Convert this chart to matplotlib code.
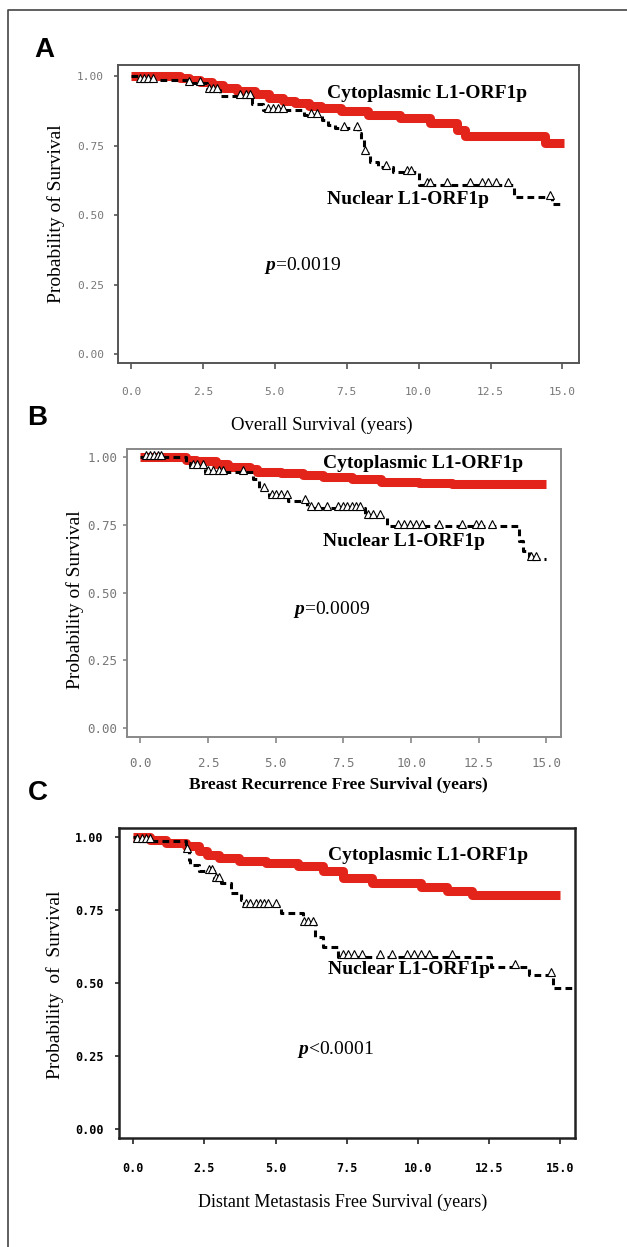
import numpy as np
import matplotlib.pyplot as plt
from matplotlib.lines import Line2D

plt.rcParams['mathtext.fontset'] = 'custom'
plt.rcParams['mathtext.it'] = 'Liberation Serif:italic:bold'
plt.rcParams['mathtext.rm'] = 'Liberation Serif'

# Panel A - overall survival
a_cyto_t = [0, 1.7, 2.0, 2.4, 2.8, 3.2, 3.7, 4.3, 4.8, 5.3, 5.7, 6.2, 6.6, 7.3, 8.25, 9.35, 10.4, 11.35, 11.6, 14.4]
a_cyto_s = [1.0, 0.993, 0.986, 0.978, 0.968, 0.957, 0.945, 0.935, 0.922, 0.91, 0.903, 0.893, 0.885, 0.875, 0.86, 0.849, 0.83, 0.806, 0.785, 0.76]
a_cyto_end = 15.05
a_nuc_t = [0, 0.25, 1.95, 2.65, 3.1, 3.7, 4.2, 4.6, 6.0, 6.65, 6.85, 7.1, 7.9, 8.0, 8.1, 8.3, 8.6, 9.1, 10.0, 13.3, 14.65]
a_nuc_s = [1.0, 0.985, 0.975, 0.95, 0.93, 0.925, 0.90, 0.877, 0.86, 0.842, 0.824, 0.813, 0.795, 0.775, 0.725, 0.69, 0.673, 0.655, 0.61, 0.565, 0.54]
a_nuc_end = 15.05
a_nuc_cens = [0.3, 0.45, 0.6, 0.75, 2.0, 2.4, 2.7, 2.85, 3.0, 3.8, 4.0, 4.15, 4.75, 4.95, 5.1, 5.3,
              6.25, 6.45, 7.4, 7.85, 8.15, 8.85, 9.6, 9.75, 10.3, 10.4, 11.0, 11.8, 12.2, 12.4, 12.7, 13.1, 14.55]

# Panel B - breast recurrence free survival
b_cyto_t = [0, 1.7, 2.05, 2.8, 3.25, 4.05, 4.3, 5.2, 6.0, 6.75, 7.8, 8.9, 10.3, 11.5]
b_cyto_s = [1.0, 0.99, 0.985, 0.974, 0.963, 0.955, 0.945, 0.94, 0.933, 0.926, 0.92, 0.91, 0.906, 0.90]
b_cyto_end = 15.0
b_nuc_t = [0, 1.7, 1.85, 2.4, 4.15, 4.4, 4.75, 5.45, 6.15, 8.3, 9.1, 14.0, 14.15, 14.35]
b_nuc_s = [1.0, 0.98, 0.967, 0.945, 0.92, 0.88, 0.856, 0.837, 0.812, 0.78, 0.745, 0.69, 0.655, 0.625]
b_nuc_end = 15.0
b_nuc_cens = [0.2, 0.35, 0.5, 0.65, 0.75, 1.95, 2.1, 2.3, 2.5, 2.7, 2.9, 3.05, 3.8, 4.55, 4.85, 5.0, 5.2, 5.4,
              6.1, 6.3, 6.55, 6.9, 7.3, 7.5, 7.65, 7.8, 7.95, 8.1, 8.4, 8.6, 8.85, 9.5, 9.75, 9.95, 10.2, 10.4,
              11.05, 11.9, 12.4, 12.6, 13.0, 14.45, 14.6]

# Panel C - distant metastasis free survival
c_cyto_t = [0, 0.6, 1.15, 1.85, 2.3, 2.6, 3.0, 3.7, 4.65, 5.8, 6.65, 7.37, 8.4, 10.1, 11.0, 11.9]
c_cyto_s = [1.0, 0.99, 0.98, 0.97, 0.952, 0.94, 0.928, 0.918, 0.911, 0.90, 0.884, 0.86, 0.844, 0.828, 0.815, 0.80]
c_cyto_end = 15.0
c_nuc_t = [0, 0.1, 1.85, 1.95, 2.0, 2.3, 2.85, 3.1, 3.45, 3.8, 3.9, 5.2, 5.95, 6.4, 6.65, 7.2, 12.55, 13.9, 14.75]
c_nuc_s = [1.0, 0.988, 0.955, 0.92, 0.905, 0.883, 0.853, 0.842, 0.81, 0.785, 0.765, 0.74, 0.705, 0.657, 0.623, 0.589, 0.555, 0.527, 0.483]
c_nuc_end = 15.5
c_nuc_cens = [0.15, 0.3, 0.45, 0.6, 1.9, 2.65, 2.75, 2.9, 3.0, 3.95, 4.1, 4.3, 4.45, 4.6, 4.75, 5.0,
              6.0, 6.15, 6.3, 7.35, 7.55, 7.75, 8.05, 8.65, 9.1, 9.6, 9.85, 10.1, 10.4, 11.2, 13.4, 14.65]

x_ticks = [0, 2.5, 5, 7.5, 10, 12.5, 15]
x_labels = ["0.0", "2.5", "5.0", "7.5", "10.0", "12.5", "15.0"]
y_ticks = [0, 0.25, 0.5, 0.75, 1.0]
y_labels = ["0.00", "0.25", "0.50", "0.75", "1.00"]

RED = '#e3241b'
W, H = 627, 1247
fig = plt.figure(figsize=(W / 100, H / 100), dpi=100)


def px_axes(left, top, right, bottom):
    return fig.add_axes([left / W, 1 - bottom / H, (right - left) / W, (bottom - top) / H])


def px_text(x, y, s, **kw):
    fig.text(x / W, 1 - y / H, s, **kw)


def km(ax, t, s, end, **kw):
    ax.step(list(t) + [end], list(s) + [s[-1]], where='post', **kw)


def censor(ax, t, s, cens):
    idx = np.searchsorted(t, cens, side='right') - 1
    ax.plot(cens, np.array(s)[idx] + 0.009, ls='none', marker='^', ms=5.5, mfc='white',
            mec='black', mew=0.8, zorder=5)


def panel(box, xlim, ylim, cyto, nuc, tick_kw, frame_col, frame_lw, xpad, ypad):
    ax = px_axes(*box)
    km(ax, cyto[0], cyto[1], cyto[2], color=RED, lw=6.5, solid_capstyle='butt', zorder=3)
    km(ax, nuc[0], nuc[1], nuc[2], color='black', lw=2.2, ls=(0, (2.2, 1.4)), zorder=4)
    censor(ax, nuc[0], nuc[1], nuc[3])
    ax.set_xlim(*xlim)
    ax.set_ylim(*ylim)
    ax.set_xticks(x_ticks)
    ax.set_xticklabels(x_labels, **tick_kw)
    ax.set_yticks(y_ticks)
    ax.set_yticklabels(y_labels, **tick_kw)
    ax.tick_params(axis='x', direction='out', length=4, width=1.2, pad=xpad, color=frame_col)
    ax.tick_params(axis='y', direction='out', length=3, width=1.2, pad=ypad, color=frame_col)
    for sp in ax.spines.values():
        sp.set_color(frame_col)
        sp.set_linewidth(frame_lw)
    return ax


panel((118, 65, 579, 363), (-0.452, 15.575), (-0.032, 1.04),
      (a_cyto_t, a_cyto_s, a_cyto_end), (a_nuc_t, a_nuc_s, a_nuc_end, a_nuc_cens),
      dict(family='DejaVu Sans Mono', fontsize=8, color='#777777'), '#555555', 1.4, 13.5, 7)
panel((127, 449, 561, 737), (-0.495, 15.54), (-0.033, 1.03),
      (b_cyto_t, b_cyto_s, b_cyto_end), (b_nuc_t, b_nuc_s, b_nuc_end, b_nuc_cens),
      dict(family='DejaVu Sans Mono', fontsize=9, color='#777777'), '#888888', 1.4, 10.5, 4)
panel((119, 828, 575, 1138), (-0.498, 15.51), (-0.031, 1.031),
      (c_cyto_t, c_cyto_s, c_cyto_end), (c_nuc_t, c_nuc_s, c_nuc_end, c_nuc_cens),
      dict(family='DejaVu Sans Mono', fontsize=8.5, color='black', fontweight='bold'), '#222222', 1.8, 13.5, 8)

serif = 'Liberation Serif'
# panel A texts
px_text(327, 93, "Cytoplasmic L1-ORF1p", family=serif, fontweight='bold', fontsize=14, va='center')
px_text(327, 200, "Nuclear L1-ORF1p", family=serif, fontweight='bold', fontsize=14, va='center')
px_text(264, 265, "$p$=0.0019", family=serif, fontsize=14, va='center')
px_text(322, 425, "Overall Survival (years)", family=serif, fontsize=13.5, ha='center', va='center')
px_text(56, 214, "Probability of Survival", family=serif, fontsize=14, rotation=90, ha='center', va='center')

# panel B texts
px_text(323, 464, "Cytoplasmic L1-ORF1p", family=serif, fontweight='bold', fontsize=14, va='center')
px_text(323, 541, "Nuclear L1-ORF1p", family=serif, fontweight='bold', fontsize=14, va='center')
px_text(293, 610, "$p$=0.0009", family=serif, fontsize=14, va='center')
px_text(338, 785, "Breast Recurrence Free Survival (years)", family=serif, fontweight='bold', fontsize=12.5,
        ha='center', va='center')
px_text(75, 600, "Probability of Survival", family=serif, fontsize=14, rotation=90, ha='center', va='center')

# panel C texts
px_text(328, 856, "Cytoplasmic L1-ORF1p", family=serif, fontweight='bold', fontsize=14, va='center')
px_text(328, 970, "Nuclear L1-ORF1p", family=serif, fontweight='bold', fontsize=14, va='center')
px_text(297, 1050, "$p$<0.0001", family=serif, fontsize=14, va='center')
px_text(343, 1202, "Distant Metastasis Free Survival (years)", family=serif, fontsize=13, ha='center', va='center')
px_text(55, 985, "Probability  of  Survival", family=serif, fontsize=14, rotation=90, ha='center', va='center')

# panel letters
for letter, x, y in [("A", 44, 50), ("B", 37, 418), ("C", 38, 793)]:
    px_text(x, y, letter, family='Liberation Sans', fontweight='bold', fontsize=20, ha='center', va='center')

# outer frame (top and left edges)
fig.add_artist(Line2D([8 / W, 8 / W, 1.0], [0.0, 1 - 10 / H, 1 - 10 / H], color='#444444', lw=1.2,
                      transform=fig.transFigure))

fig.savefig("out.png", dpi=100)
